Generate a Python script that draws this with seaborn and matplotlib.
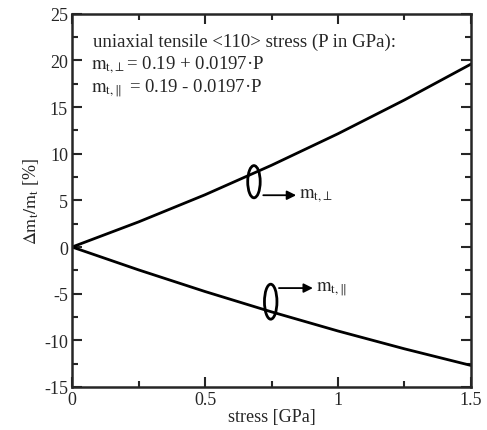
import pandas as pd
import matplotlib.pyplot as plt
import seaborn as sns
from matplotlib.patches import Ellipse
from matplotlib.ticker import MultipleLocator

# values
stress = [0.0, 0.25, 0.5, 0.75, 1.0, 1.25, 1.5]
dm_perp = [0.0, 2.69, 5.60, 8.76, 12.14, 15.76, 19.6]
dm_par = [0.0, -2.45, -4.77, -6.95, -9.0, -10.91, -12.69]

sns.set_style("ticks")
plt.rcParams['font.family'] = ['Liberation Serif', 'DejaVu Serif']
plt.rcParams['mathtext.fontset'] = 'stix'
plt.rcParams['axes.unicode_minus'] = False

df = pd.DataFrame({"stress": stress * 2,
                   "dm": dm_perp + dm_par,
                   "branch": ["perp"] * len(stress) + ["par"] * len(stress)})

fig = plt.figure(figsize=(4.87, 4.31), dpi=100)
ax = fig.add_axes([0.148, 0.0998, 0.819, 0.866])

sns.lineplot(data=df, x="stress", y="dm", units="branch", estimator=None,
             color="black", lw=2, ax=ax)

ax.set_xlim(0, 1.5)
ax.set_ylim(-15, 25)
ax.set_xticks([0, 0.5, 1, 1.5])
ax.set_xticklabels(["0", "0.5", "1", "1.5"])
ax.xaxis.set_minor_locator(MultipleLocator(0.25))
ax.yaxis.set_major_locator(MultipleLocator(5))
ax.yaxis.set_minor_locator(MultipleLocator(2.5))
ax.tick_params(which="both", direction="in", top=True, right=True, width=1.5,
               labelsize=13, pad=3)
ax.tick_params(which="major", length=7)
ax.tick_params(which="minor", length=4)
for s in ax.spines.values():
    s.set_linewidth(1.8)

ax.set_xlabel("stress [GPa]", fontsize=13, labelpad=0)
ax.set_ylabel(r"$\Delta\mathrm{m}_\mathrm{t}/\mathrm{m}_\mathrm{t}$ [%]", fontsize=13, labelpad=2)

perp = r"$\mathrm{m}_{\mathrm{t}{,}\perp}$"
par = r"$\mathrm{m}_{\mathrm{t}{,}\parallel}$"

ax.text(0.079, 22.0, "uniaxial tensile <110> stress (P in GPa):", fontsize=13.5, va="center")
ax.text(0.072, 19.6, perp + "= 0.19 + 0.0197·P", fontsize=13.5, va="center")
ax.text(0.072, 17.1, par + " = 0.19 - 0.0197·P", fontsize=13.5, va="center")

# ellipses marking each branch
ax.add_patch(Ellipse((0.684, 7.0), 0.047, 3.45, fill=False, lw=2, ec="black"))
ax.add_patch(Ellipse((0.747, -5.86), 0.047, 3.75, fill=False, lw=2, ec="black"))

ax.annotate(perp, xy=(0.719, 5.55), xytext=(0.855, 5.55),
            fontsize=13.5, va="center",
            arrowprops=dict(arrowstyle="<|-", color="black", lw=1.3, shrinkA=0, shrinkB=0))
ax.annotate(par, xy=(0.778, -4.4), xytext=(0.918, -4.4),
            fontsize=13.5, va="center",
            arrowprops=dict(arrowstyle="<|-", color="black", lw=1.3, shrinkA=0, shrinkB=0))

plt.savefig("out.png", dpi=100)
plt.close()
